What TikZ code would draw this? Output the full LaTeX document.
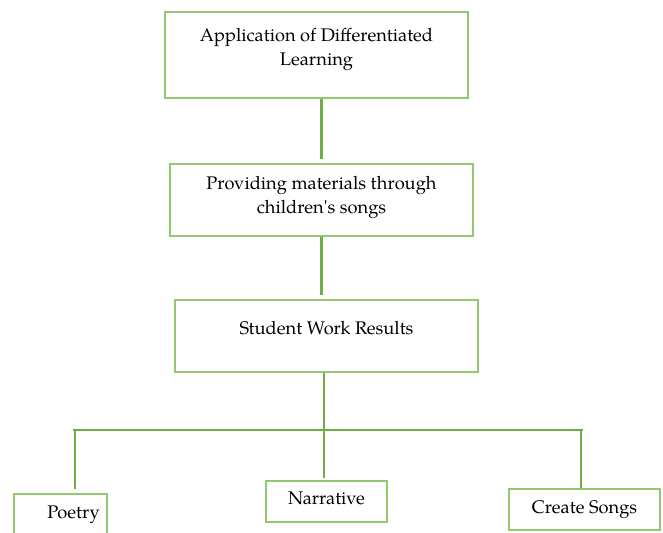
\documentclass[tikz,border=0pt]{standalone}
\usepackage{fontspec}
\setmainfont{TeX Gyre Pagella}[Ligatures=TeXOff]

\definecolor{boxgreen}{RGB}{146,200,110}
\definecolor{linkgreen}{RGB}{112,173,71}

\begin{document}
\begin{tikzpicture}[x=0.75pt,y=-0.75pt,
  flowbox/.style n args={3}{draw=boxgreen,line width=1.1pt,inner sep=0pt,
    font=\fontsize{13.7}{18.5}\selectfont,
    execute at begin node={\begin{minipage}[c][#2][t]{#1}\centering\vspace*{#3}\strut},
    execute at end node={\end{minipage}}},
  link/.style={draw=linkgreen,line width=2.2pt}]
  \useasboundingbox (0,0) rectangle (663,532);
  \node[flowbox={227.25pt}{64.5pt}{8.9pt}] (app) at (316.5,55) {Application of Differentiated\\Learning};
  \node[flowbox={227.25pt}{54pt}{5.8pt}] (songs) at (321.5,200) {Providing materials through\\children's songs};
  \node[flowbox={227.25pt}{54pt}{12.6pt}] (results) at (326.5,336) {Student Work Results};
  \node[flowbox={69.75pt}{38.25pt}{5.1pt}] (poetry) at (60.5,519.5) {\hspace*{19.5pt}Poetry};
  \node[flowbox={90.75pt}{30.75pt}{4.3pt}] (narrative) at (326.5,501.5) {Narrative};
  \node[flowbox={113.25pt}{30.75pt}{5.1pt}] (create) at (584.5,509.5) {Create Songs};
  \coordinate (hub) at (324,430);
  \coordinate (barL) at (73,430);
  \coordinate (barR) at (583,430);
  \coordinate (dropP) at (75,430);
  \coordinate (dropC) at (581,430);
  \draw[link,shorten >=3pt] (app.south -| songs.north) -- (songs.north);
  \draw[link,shorten >=3pt] (songs.south) -- (songs.south |- results.north);
  \draw[link] (results.south -| hub) -- (hub);
  \draw[link] (barL) -- (barR);
  \draw[link,shorten >=3pt] (dropP) -- (dropP |- poetry.north);
  \draw[link,shorten >=2pt] (hub) -- (hub |- narrative.north);
  \draw[link] (dropC) -- (dropC |- create.north);
\end{tikzpicture}
\end{document}
